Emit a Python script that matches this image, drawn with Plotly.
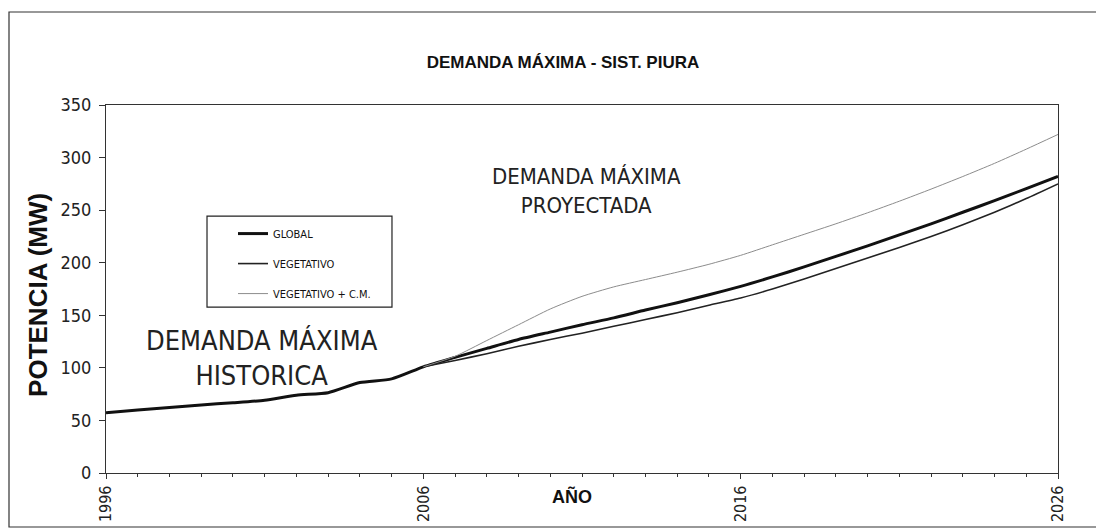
import plotly.graph_objects as go

# años
YEARS_HIST = list(range(1996, 2007))
YEARS_PROY = list(range(2006, 2027))

# demanda máxima histórica (MW), 1996-2006
HISTORICA = [57.4, 59.8, 62.2, 64.7, 66.8, 69.2, 74.0, 76.4, 86.0, 89.5, 101.0]

# proyecciones 2006-2026 (MW)
GLOBAL = [101.0, 110, 118.5, 127, 134, 141, 147.5, 155, 162, 169.5, 177.5,
          186.5, 196, 206, 216, 226.5, 237, 248, 259, 270.5, 282]
VEGETATIVO = [101.0, 107, 113.5, 120.5, 127, 133, 139.5, 146, 152.5, 159.5, 166.5,
              175, 184.5, 194.5, 204.5, 214.5, 225, 236, 248, 261, 275]
VEGETATIVO_CM = [101.0, 111, 126, 141, 156, 168, 177, 184, 191, 198.5, 207,
                 217, 227, 237, 247.5, 258.5, 270, 282, 294.5, 308, 322]

X_TICKS = [1996, 2006, 2016, 2026]
Y_TICKS = [0, 50, 100, 150, 200, 250, 300, 350]

FONT_T = "DejaVu Sans Condensed, DejaVu Sans"

# la página tiene 8 px de margen: el gráfico se dibuja 8 px más pequeño
W, H = 1096, 520
L, T = 98, 97
PW, PH = 952, 368

fig = go.Figure()

# la curva histórica forma parte de la línea gruesa (GLOBAL)
fig.add_trace(go.Scatter(
    x=YEARS_HIST + YEARS_PROY[1:], y=HISTORICA + GLOBAL[1:],
    mode="lines", name="GLOBAL", legendgroup="g1",
    line=dict(color="#111", width=3, shape="spline", smoothing=0.6)))
fig.add_trace(go.Scatter(
    x=YEARS_PROY, y=VEGETATIVO, mode="lines", name="VEGETATIVO", legendgroup="g2",
    line=dict(color="#222", width=1.6, shape="spline", smoothing=0.6)))
fig.add_trace(go.Scatter(
    x=YEARS_PROY, y=VEGETATIVO_CM, mode="lines", name="VEGETATIVO + C.M.",
    legendgroup="g3", line=dict(color="#8c8c8c", width=1, shape="spline", smoothing=0.6)))

fig.add_annotation(x=2000.92, y=109.4, xref="x", yref="y", showarrow=False,
                   text="DEMANDA MÁXIMA<br>HISTORICA",
                   font=dict(family=FONT_T, size=27, color="#222"))
fig.add_annotation(x=2011.13, y=268.3, xref="x", yref="y", showarrow=False,
                   text="DEMANDA MÁXIMA<br>PROYECTADA",
                   font=dict(family=FONT_T, size=22, color="#222"))
fig.add_annotation(x=2010.7, y=-0.065, xref="x", yref="paper", showarrow=False,
                   text="<b>AÑO</b>", yanchor="middle", xanchor="center",
                   font=dict(family="Liberation Sans", size=18, color="#111"))
fig.add_annotation(x=-0.0714, y=0.484, xref="paper", yref="paper", showarrow=False,
                   text="<b>POTENCIA (MW)</b>", textangle=-90,
                   xanchor="center", yanchor="middle",
                   font=dict(family="Liberation Sans", size=26, color="#111"))

# marco de la leyenda
fig.add_shape(type="rect", xref="paper", yref="paper",
              x0=0.1061, x1=0.3004, y0=0.451, y1=0.698,
              line=dict(color="#222", width=1.2), fillcolor="white", layer="above")
# marco exterior
fig.add_shape(type="rect", xref="paper", yref="paper",
              x0=(1 - L) / PW, x1=(W - 3 - L) / PW,
              y0=(T + PH - (H - 1)) / PH, y1=(T + PH - 4) / PH,
              line=dict(color="#333", width=1.2), layer="above")

fig.update_layout(
    width=W, height=H,
    margin=dict(l=L, r=W - L - PW, t=T, b=H - T - PH),
    paper_bgcolor="white", plot_bgcolor="white",
    title=dict(text="<b>DEMANDA MÁXIMA - SIST. PIURA</b>", x=0.48, xref="paper",
               y=1 - 54 / H, yref="container", xanchor="center", yanchor="middle",
               font=dict(family="Liberation Sans", size=17, color="#111")),
    legend=dict(x=0.1334, y=0.690, xanchor="left", yanchor="top",
                bgcolor="rgba(0,0,0,0)", borderwidth=0, tracegroupgap=11,
                itemwidth=30, font=dict(family=FONT_T, size=11, color="#111")),
    xaxis=dict(range=[1996, 2026], tickvals=X_TICKS, tickangle=-90,
               ticks="outside", ticklen=5, tickcolor="#333", automargin=False,
               showline=True, linecolor="#333", linewidth=1.2, mirror=True,
               showgrid=False, zeroline=False,
               tickfont=dict(family=FONT_T, size=16, color="#222"),
               minor=dict(dtick=1, ticks="outside", ticklen=3, tickcolor="#333")),
    yaxis=dict(range=[0, 350], tickvals=Y_TICKS, ticks="outside", ticklen=6,
               tickcolor="#333", showline=True, linecolor="#333", linewidth=1.2,
               mirror=True, showgrid=False, zeroline=False, ticklabelstandoff=4,
               tickfont=dict(family=FONT_T, size=18, color="#222"),
               automargin=False),
)

fig.write_html("out.html")
